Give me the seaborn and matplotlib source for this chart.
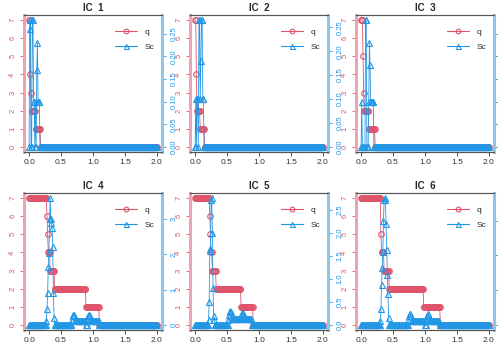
import numpy as np
import pandas as pd
import seaborn as sns
import matplotlib.pyplot as plt
from matplotlib.lines import Line2D
from matplotlib.ticker import MultipleLocator

# time grid (0 .. 2, step 0.01)
x_vals = np.round(np.arange(0, 201) * 0.01, 2)

# q per panel, run-length: values / number of grid points
q1_vals = [7, 4, 3, 2, 1, 0]
q1_counts = [2, 1, 1, 6, 8, 183]
q2_vals = [7, 4, 2, 1, 0]
q2_counts = [2, 1, 5, 7, 186]
q3_vals = [7, 5, 3, 2, 1, 0]
q3_counts = [3, 1, 1, 7, 10, 179]
q4_vals = [7, 6, 5, 4, 3, 2, 1, 0]
q4_counts = [28, 1, 1, 3, 7, 49, 21, 91]
q5_vals = [7, 6, 5, 4, 3, 2, 1, 0]
q5_counts = [23, 1, 1, 2, 6, 39, 19, 110]
q6_vals = [7, 5, 4, 3, 2, 1, 0]
q6_counts = [31, 1, 4, 8, 54, 26, 77]

# Sc per panel, run-length
sc1_vals = [0, 0.26, 0.28, 0, 0.28, 0.10, 0, 0.10, 0, 0.17, 0.23, 0.10, 0]
sc1_counts = [1, 1, 1, 2, 2, 2, 1, 1, 1, 1, 1, 3, 184]
sc2_vals = [0, 0.10, 0, 0.10, 0, 0.265, 0.10, 0.18, 0.265, 0.10, 0]
sc2_counts = [1, 1, 1, 2, 1, 2, 1, 1, 2, 2, 187]
sc3_vals = [0, 0.10, 0, 0.28, 0, 0.10, 0.23, 0.18, 0.10, 0]
sc3_counts = [1, 1, 5, 2, 3, 1, 1, 1, 5, 181]
sc4_vals = [0, 0.1, 0.45, 0.9, 1.65, 2.05, 3.0, 3.6, 3.0, 2.9, 2.75, 2.2, 0.9, 0.2,
            0, 0.15, 0.25, 0.28, 0.28, 0.25, 0.15, 0.12, 0,
            0.15, 0.25, 0.28, 0.28, 0.25, 0.15, 0.12, 0]
sc4_counts = [27, 1, 1, 1, 1, 1, 1, 1, 1, 1, 1, 1, 1, 1,
              27, 1, 1, 1, 1, 1, 1, 16, 2,
              1, 1, 1, 1, 1, 1, 13, 91]
sc5_vals = [0, 0.1, 0.5, 1.6, 1.65, 2.7, 2.75, 2.0, 0.8, 0.2, 0.1,
            0, 0.1, 0.22, 0.28, 0.3, 0.28, 0.22, 0.12,
            0.2, 0.25, 0.25, 0.2, 0.12, 0]
sc5_counts = [21, 1, 1, 1, 1, 1, 1, 1, 1, 1, 1,
              21, 1, 1, 1, 1, 1, 1, 15,
              1, 1, 1, 1, 12, 112]
sc6_vals = [0, 0.1, 0.45, 1.15, 1.65, 2.1, 3.0, 3.6, 3.65, 3.6, 2.9, 2.15, 1.45, 0.9, 0.2,
            0, 0.15, 0.25, 0.3, 0.3, 0.25, 0.15, 0.12, 0,
            0.15, 0.25, 0.3, 0.3, 0.25, 0.15, 0.12, 0]
sc6_counts = [30, 1, 1, 1, 1, 1, 1, 1, 1, 1, 1, 1, 1, 1, 1,
              30, 1, 1, 1, 1, 1, 1, 20, 2,
              1, 1, 1, 1, 1, 1, 15, 78]

panel_titles = ["IC  1", "IC  2", "IC  3", "IC  4", "IC  5", "IC  6"]
sc_steps = [0.05, 0.05, 0.05, 1, 0.5, 1]
x_ticks = [0, 0.5, 1, 1.5, 2]

q_runs = [(q1_vals, q1_counts), (q2_vals, q2_counts), (q3_vals, q3_counts),
          (q4_vals, q4_counts), (q5_vals, q5_counts), (q6_vals, q6_counts)]
sc_runs = [(sc1_vals, sc1_counts), (sc2_vals, sc2_counts), (sc3_vals, sc3_counts),
           (sc4_vals, sc4_counts), (sc5_vals, sc5_counts), (sc6_vals, sc6_counts)]

red = "#DF536B"
blue = "#2297E6"
red_axis = "#EBA5B1"
blue_axis = "#8EC5EF"

sns.set_style("ticks")
plt.rcParams["font.family"] = ["Liberation Sans", "DejaVu Sans"]

fig = plt.figure(figsize=(4.98, 3.51), dpi=100)

W, H = 138 / 498, 137 / 351
lefts = [24 / 498, 190 / 498, 356 / 498]
bottoms = [(351 - 152) / 351, (351 - 330) / 351]

for i in range(6):
    row, col = divmod(i, 3)
    q = np.repeat(q_runs[i][0], q_runs[i][1])
    sc = np.repeat(sc_runs[i][0], sc_runs[i][1])
    df = pd.DataFrame({"x": x_vals, "q": q, "Sc": sc})

    ax = fig.add_axes([lefts[col], bottoms[row], W, H])
    sns.lineplot(data=df, x="x", y="q", ax=ax, color=red, linewidth=0.6,
                 marker="o", markersize=4.0, markerfacecolor="none",
                 markeredgecolor=red, markeredgewidth=0.8, estimator=None)
    ax.set_xlim(-0.08, 2.08)
    ax.set_ylim(-0.28, 7.28)
    ax.set_xticks(x_ticks)
    ax.set_xticklabels(["0.0", "0.5", "1.0", "1.5", "2.0"])
    ax.yaxis.set_major_locator(MultipleLocator(1))
    ax.set_xlabel("")
    ax.set_ylabel("")
    ax.tick_params(axis="x", colors="#333333", labelsize=6, length=3, width=0.6, pad=2)
    ax.tick_params(axis="y", colors=red, labelsize=5.5, length=3, width=0.6, pad=2.5,
                   labelrotation=90)
    for lab in ax.get_yticklabels():
        lab.set_va("center")
    ax.set_title(panel_titles[i], fontsize=7, fontweight="bold", pad=3)

    ax2 = ax.twinx()
    mx = sc.max()
    sns.lineplot(data=df, x="x", y="Sc", ax=ax2, color=blue, linewidth=0.6,
                 marker="^", markersize=4.2, markerfacecolor="none",
                 markeredgecolor=blue, markeredgewidth=0.8, estimator=None)
    ax2.set_ylim(-0.04 * mx, 1.04 * mx)
    ax2.yaxis.set_major_locator(MultipleLocator(sc_steps[i]))
    ax2.set_ylabel("")
    # right-hand labels of the last column fall outside the figure in the original
    ax2.tick_params(axis="y", colors=blue, labelsize=5.5, length=3, width=0.6, pad=3,
                    labelrotation=90, labelright=(col != 2))
    for lab in ax2.get_yticklabels():
        lab.set_va("center")

    # box: gray top/bottom, coloured axes on the sides
    for a in (ax, ax2):
        for s in ("top", "bottom"):
            a.spines[s].set_color("#555555")
            a.spines[s].set_linewidth(0.8)
    ax.spines["left"].set_color(red_axis)
    ax.spines["left"].set_linewidth(2.2)
    ax.spines["right"].set_visible(False)
    ax2.spines["left"].set_visible(False)
    ax2.spines["right"].set_color(blue_axis)
    ax2.spines["right"].set_linewidth(2.2)

    handles = [
        Line2D([], [], color=red, linewidth=0.8, marker="o", markersize=3.4,
               markerfacecolor="none", markeredgewidth=0.8),
        Line2D([], [], color=blue, linewidth=0.8, marker="^", markersize=3.6,
               markerfacecolor="none", markeredgewidth=0.8),
    ]
    ax2.legend(handles, ["q", "Sc"], loc="upper left", bbox_to_anchor=(0.66, 0.905),
               frameon=False, fontsize=6, handlelength=2.6, handletextpad=0.9,
               labelspacing=0.85, borderpad=0, borderaxespad=0)

fig.savefig("out.png", dpi=100)
